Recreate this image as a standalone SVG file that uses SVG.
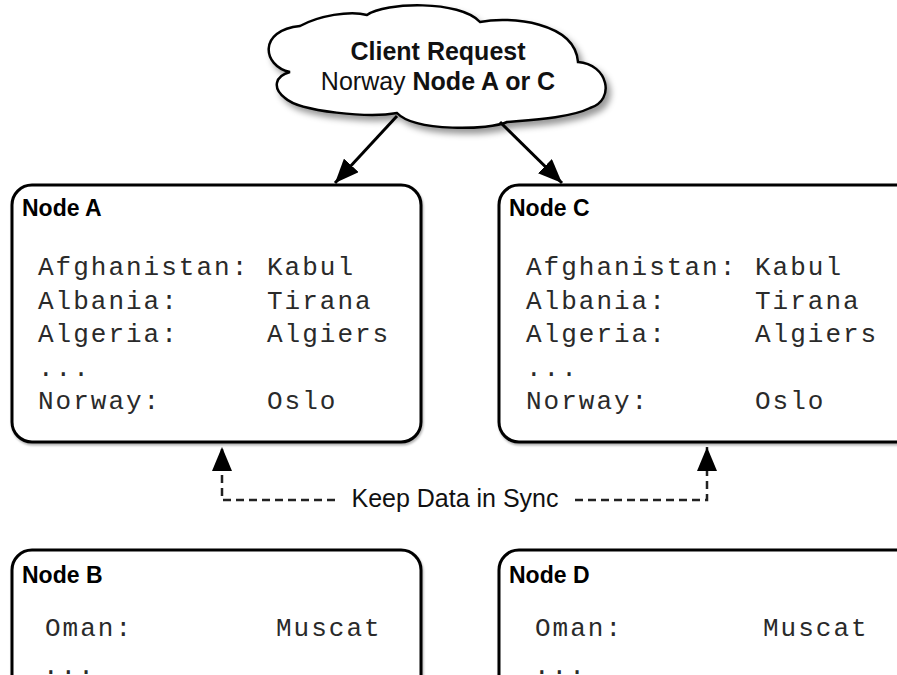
<svg xmlns="http://www.w3.org/2000/svg" width="897" height="675" viewBox="0 0 897 675">
  <defs>
    <style>
      .box { fill: #ffffff; stroke: #000000; stroke-width: 3; }
      .title { font-family: "Liberation Sans", Arial, sans-serif; font-weight: bold; font-size: 23px; fill: #000; }
      .mono { font-family: "Liberation Mono", "Courier New", monospace; font-size: 26px; letter-spacing: 2px; fill: #2a2a2a; }
      .lbl { font-family: "Liberation Sans", Arial, sans-serif; font-size: 25px; fill: #111; }
      .conn { fill: none; stroke: #000; stroke-width: 3; }
      .dash { fill: none; stroke: #222; stroke-width: 2.5; stroke-dasharray: 8 5; }
    </style>
    <filter id="shadow" x="-10%" y="-10%" width="130%" height="140%">
      <feDropShadow dx="4" dy="5" stdDeviation="3" flood-color="#000" flood-opacity="0.4"/>
    </filter>
    <filter id="bshadow" x="-5%" y="-5%" width="115%" height="115%">
      <feDropShadow dx="1" dy="2" stdDeviation="1.2" flood-color="#000" flood-opacity="0.3"/>
    </filter>
    <marker id="arrow" viewBox="0 0 24 20" refX="24" refY="10" markerWidth="24" markerHeight="20" orient="auto" markerUnits="userSpaceOnUse">
      <path d="M0,0 L24,10 L0,20 z" fill="#000"/>
    </marker>
  </defs>

  <rect width="897" height="675" fill="#ffffff"/>

  <g id="cloud">
    <path filter="url(#shadow)" fill="#ffffff" stroke="#000" stroke-width="2.5"
      d="M290,72 C262,66 258,30 300,26 C318,16 350,10 367,15 C385,2 460,0 480,22 C510,16 575,22 578,62 C608,64 616,100 590,108 C570,118 530,120 507,122 C490,130 415,132 397,113 C370,118 300,112 285,98 C272,88 275,76 290,72 Z"/>
    <text class="lbl" x="438" y="60" text-anchor="middle" font-weight="bold">Client Request</text>
    <text class="lbl" x="438" y="90" text-anchor="middle">Norway <tspan font-weight="bold">Node A or C</tspan></text>
  </g>

  <g id="nodeA">
    <rect class="box" filter="url(#bshadow)" x="12" y="185" width="409" height="257" rx="20" ry="20"/>
    <text class="title" x="22" y="216">Node A</text>
    <text class="mono" x="38" y="275">Afghanistan:</text>
    <text class="mono" x="267" y="275">Kabul</text>
    <text class="mono" x="38" y="308.5">Albania:</text>
    <text class="mono" x="267" y="308.5">Tirana</text>
    <text class="mono" x="38" y="342">Algeria:</text>
    <text class="mono" x="267" y="342">Algiers</text>
    <text class="mono" x="38" y="375.5">...</text>
    <text class="mono" x="38" y="409">Norway:</text>
    <text class="mono" x="267" y="409">Oslo</text>
  </g>

  <g id="nodeC">
    <rect class="box" filter="url(#bshadow)" x="499" y="185" width="420" height="257" rx="20" ry="20"/>
    <text class="title" x="509" y="216">Node C</text>
    <text class="mono" x="526" y="275">Afghanistan:</text>
    <text class="mono" x="755" y="275">Kabul</text>
    <text class="mono" x="526" y="308.5">Albania:</text>
    <text class="mono" x="755" y="308.5">Tirana</text>
    <text class="mono" x="526" y="342">Algeria:</text>
    <text class="mono" x="755" y="342">Algiers</text>
    <text class="mono" x="526" y="375.5">...</text>
    <text class="mono" x="526" y="409">Norway:</text>
    <text class="mono" x="755" y="409">Oslo</text>
  </g>

  <g id="nodeB">
    <rect class="box" filter="url(#bshadow)" x="12" y="550" width="409" height="220" rx="20" ry="20"/>
    <text class="title" x="22" y="583">Node B</text>
    <text class="mono" x="45" y="636">Oman:</text>
    <text class="mono" x="276" y="636">Muscat</text>
    <text class="mono" x="43" y="674">...</text>
  </g>

  <g id="nodeD">
    <rect class="box" filter="url(#bshadow)" x="499" y="550" width="420" height="220" rx="20" ry="20"/>
    <text class="title" x="509" y="583">Node D</text>
    <text class="mono" x="535" y="636">Oman:</text>
    <text class="mono" x="763" y="636">Muscat</text>
    <text class="mono" x="534" y="674">...</text>
  </g>

  <g id="connectors">
    <line class="conn" x1="397" y1="116" x2="335" y2="183" marker-end="url(#arrow)"/>
    <line class="conn" x1="500" y1="122" x2="562" y2="183" marker-end="url(#arrow)"/>
    <path class="dash" d="M335,500 L222,500 L222,447" marker-end="url(#arrow)"/>
    <path class="dash" d="M575,500 L707,500 L707,447" marker-end="url(#arrow)"/>
    <text class="lbl" x="455" y="507" text-anchor="middle">Keep Data in Sync</text>
  </g>
</svg>
